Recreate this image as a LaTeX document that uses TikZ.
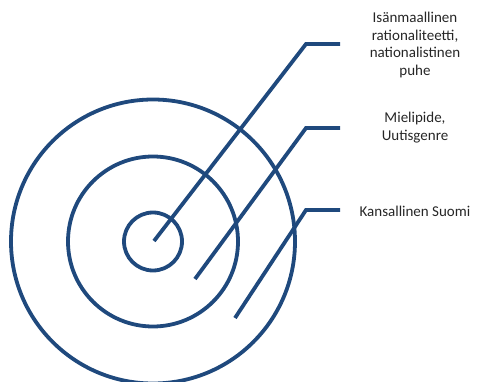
\documentclass[tikz,border=0pt]{standalone}
\usepackage{fontspec}
\setmainfont{Carlito}
\definecolor{navy}{RGB}{31,73,125}
\begin{document}
\begin{tikzpicture}[x=1pt,y=-1pt,
  ring/.style={circle, draw=navy, line width=3.8pt, inner sep=0pt},
  leader/.style={draw=navy, line width=3.8pt},
  lbl/.style={align=center, text=black!85, font=\fontsize{15}{17.7}\selectfont, inner sep=0pt}]
\useasboundingbox (0,0) rectangle (477,382);
\coordinate (c) at (153,241.5);
\node[ring, minimum size=284pt] (outer) at (c) {};
\node[ring, minimum size=170pt] (middle) at (c) {};
\node[ring, minimum size=58pt] (inner) at (c) {};
\coordinate (s1) at (154,241);
\coordinate (k1) at (306,44);
\coordinate (e1) at (340,44);
\coordinate (s2) at (195,279);
\coordinate (k2) at (306,128);
\coordinate (e2) at (340,128);
\coordinate (s3) at (235,318);
\coordinate (k3) at (306,210);
\coordinate (e3) at (340,210);
\draw[leader] (s1) -- (k1) -- (e1);
\draw[leader] (s2) -- (k2) -- (e2);
\draw[leader] (s3) -- (k3) -- (e3);
\node[lbl] (t1) at (415,45) {Isänmaallinen\\rationaliteetti,\\nationalistinen\\puhe};
\node[lbl] (t2) at (415,127.5) {Mielipide,\\Uutisgenre};
\node[lbl] (t3) at (415,211) {Kansallinen Suomi};
\end{tikzpicture}
\end{document}
